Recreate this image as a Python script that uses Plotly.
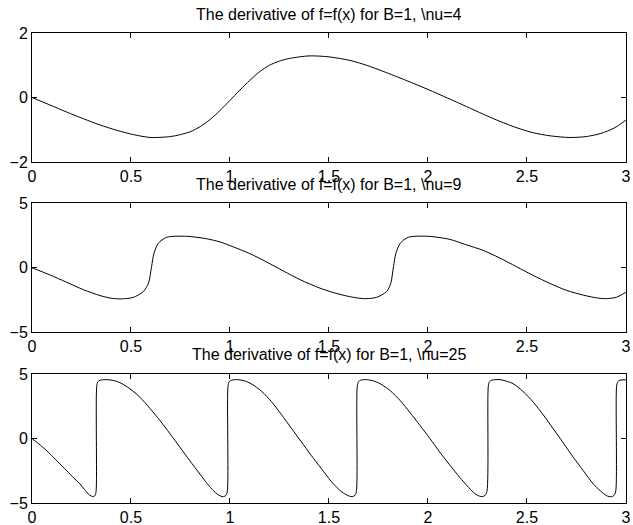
import plotly.graph_objects as go
from plotly.subplots import make_subplots

# ---- data ----
titles = [
    "The derivative of f=f(x) for B=1, \\nu=4",
    "The derivative of f=f(x) for B=1, \\nu=9",
    "The derivative of f=f(x) for B=1, \\nu=25",
]

x_nu4 = [0, 0.09, 0.175, 0.26, 0.343, 0.43, 0.512, 0.6, 0.7, 0.75, 0.8, 0.85, 0.9, 0.95,
         1.0, 1.05, 1.1, 1.15, 1.2, 1.25, 1.3, 1.4, 1.5, 1.606, 1.69, 1.774, 1.89, 2.0,
         2.1, 2.195, 2.28, 2.364, 2.45, 2.53, 2.62, 2.717, 2.8, 2.87, 2.94, 3.0]
y_nu4 = [0, -0.23, -0.45, -0.66, -0.85, -1.02, -1.15, -1.24, -1.21, -1.15, -1.06, -0.90,
         -0.68, -0.40, -0.09, 0.23, 0.53, 0.80, 1.0, 1.13, 1.21, 1.29, 1.26, 1.15, 1.0,
         0.81, 0.53, 0.25, -0.02, -0.28, -0.52, -0.74, -0.94, -1.09, -1.19, -1.24, -1.21,
         -1.12, -0.95, -0.70]

x_nu9 = [0, 0.09, 0.175, 0.26, 0.343, 0.4, 0.444, 0.48, 0.512, 0.562, 0.588, 0.604, 0.616,
         0.638, 0.68, 0.781, 0.882, 0.95, 1.017, 1.1, 1.185, 1.27, 1.354, 1.455, 1.522,
         1.6, 1.64, 1.673, 1.71, 1.741, 1.791, 1.812, 1.826, 1.838, 1.86, 1.90, 2.0, 2.111,
         2.19, 2.279, 2.36, 2.448, 2.53, 2.616, 2.7, 2.785, 2.84, 2.886, 2.925, 2.953, 3.0]
y_nu9 = [0, -0.55, -1.12, -1.7, -2.15, -2.36, -2.41, -2.38, -2.29, -1.85, -1.21, 0.09, 1.12,
         1.89, 2.36, 2.44, 2.25, 2.0, 1.62, 1.1, 0.45, -0.25, -0.92, -1.58, -1.92,
         -2.22, -2.33, -2.39, -2.37, -2.29, -1.85, -1.21, 0.09, 1.12, 1.89, 2.36, 2.44, 2.2,
         1.8, 1.35, 0.78, 0.08, -0.58, -1.21, -1.75, -2.12, -2.3, -2.39, -2.36, -2.28, -1.9]

x_nu25 = [0, 0.05, 0.091, 0.13, 0.175, 0.21, 0.242, 0.265, 0.284, 0.3, 0.312, 0.319, 0.324,
          0.327, 0.333, 0.345, 0.377, 0.41, 0.444, 0.495, 0.545, 0.595, 0.646, 0.697,
          0.747, 0.797, 0.848, 0.885, 0.916, 0.935, 0.952, 0.968, 0.98, 0.987,
          0.99, 0.996, 1.008, 1.04, 1.07, 1.11, 1.16, 1.21, 1.26, 1.31, 1.36, 1.41, 1.46,
          1.51, 1.55, 1.58, 1.6, 1.617, 1.632, 1.639,
          1.643, 1.649, 1.66, 1.69, 1.72, 1.758, 1.81, 1.859, 1.91, 1.96, 2.01, 2.06, 2.11,
          2.16, 2.2, 2.229, 2.25, 2.271, 2.288, 2.298,
          2.305, 2.311, 2.322, 2.364, 2.395, 2.43, 2.48, 2.532, 2.583, 2.633, 2.684, 2.734,
          2.785, 2.835, 2.87, 2.902, 2.926, 2.941, 2.949,
          2.953, 2.959, 2.97, 3.0]
y_nu25 = [0, -0.62, -1.19, -1.8, -2.49, -3.05, -3.52, -3.95, -4.3, -4.47, -4.5, -4.4, -4.05,
          4.05, 4.4, 4.52, 4.56, 4.5, 4.33, 3.85, 3.2, 2.35, 1.4, 0.37,
          -0.67, -1.72, -2.75, -3.5, -4.04, -4.3, -4.46, -4.51, -4.4, -4.05,
          4.05, 4.4, 4.52, 4.56, 4.48, 4.22, 3.65, 2.85, 1.85, 0.8, -0.25, -1.3, -2.3,
          -3.3, -3.95, -4.3, -4.45, -4.51, -4.4, -4.05,
          4.05, 4.4, 4.52, 4.56, 4.48, 4.25, 3.7, 2.95, 2.0, 1.01, 0.0, -1.06, -2.05,
          -3.0, -3.7, -4.17, -4.4, -4.51, -4.42, -4.1,
          4.05, 4.4, 4.52, 4.56, 4.45, 4.25, 3.65, 2.82, 1.82, 0.75, -0.35, -1.45,
          -2.5, -3.52, -4.05, -4.43, -4.52, -4.4, -4.05,
          4.05, 4.4, 4.52, 4.55]

x_ticks = [0, 0.5, 1, 1.5, 2, 2.5, 3]
x_ticklabels = ["0", "0.5", "1", "1.5", "2", "2.5", "3"]
y_ticks = [[-2, 0, 2], [-5, 0, 5], [-5, 0, 5]]
y_ranges = [[-2, 2], [-5, 5], [-5, 5]]

series = [(x_nu4, y_nu4), (x_nu9, y_nu9), (x_nu25, y_nu25)]

FONT = "Liberation Sans, Arial, Helvetica, sans-serif"

fig = make_subplots(rows=3, cols=1, vertical_spacing=0.088)

for i, (xs, ys) in enumerate(series):
    fig.add_trace(
        go.Scatter(x=xs, y=ys, mode="lines",
                   line=dict(color="black", width=1, shape="spline", smoothing=0.8),
                   showlegend=False, hoverinfo="skip", cliponaxis=True),
        row=i + 1, col=1,
    )

domains = [[0.7255, 1.0], [0.3632, 0.6377], [0.0, 0.2745]]
axis_common = dict(showline=True, linecolor="black", linewidth=1, mirror="ticks",
                   ticks="inside", ticklen=5, tickcolor="black", tickwidth=1,
                   showgrid=False, zeroline=False, automargin=False,
                   ticklabeloverflow="allow",
                   tickfont=dict(family=FONT, size=16, color="black"))

for i in range(3):
    xa = "xaxis" if i == 0 else f"xaxis{i + 1}"
    ya = "yaxis" if i == 0 else f"yaxis{i + 1}"
    fig.layout[xa].update(range=[0, 3.0005], tickvals=x_ticks, ticktext=x_ticklabels,
                          **axis_common)
    fig.layout[ya].update(range=y_ranges[i], tickvals=y_ticks[i], domain=domains[i],
                          **axis_common)
    fig.add_annotation(text=titles[i], xref="paper", yref="paper", x=0.5,
                       y=domains[i][1], xanchor="center", yanchor="middle", yshift=19,
                       showarrow=False, font=dict(family=FONT, size=16, color="black"))

fig.update_layout(width=633, height=525, margin=dict(l=32, r=7, t=33, b=22),
                  paper_bgcolor="white", plot_bgcolor="white",
                  font=dict(family=FONT, size=16, color="black"))

fig.write_html("out.html", config={"displayModeBar": False},
               post_script="document.body.style.margin='0';document.body.style.padding='0';")
